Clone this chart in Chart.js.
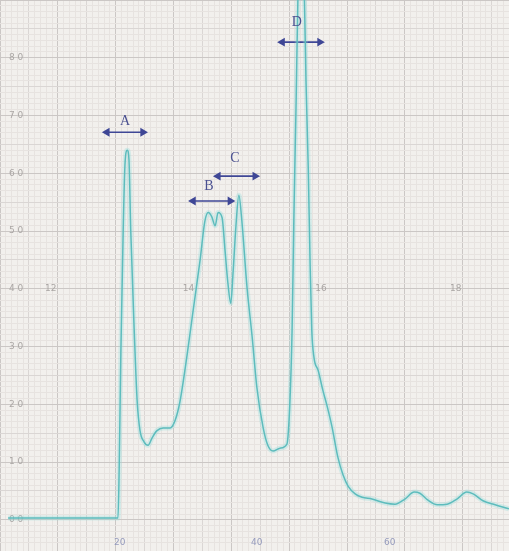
<!DOCTYPE html>
<html lang="en">

<head>
  <meta charset="UTF-8" />
  <title>Chromatogram</title>
  <script src="https://cdn.jsdelivr.net/npm/chart.js"></script>
  <style>
    body {
      margin: 0;
      background: #f2f0ed;
    }

    .trace-box {
      width: 509px;
      height: 551px;
      position: relative;
    }
  </style>
</head>

<body>
  <div class="trace-box">
    <canvas id="traceChart"></canvas>
  </div>

  <script>
    // recorder trace: time (x) vs detector response (y, % of full scale)
    const timeValues = [
      1.4, 20.4, 20.6, 20.9, 21.3, 21.6, 22.0, 22.3, 22.6, 23.2, 23.7, 24.2, 24.9, 25.6, 26.3, 27.1,
      28.2, 29.4, 30.3, 31.1, 32.3, 33.4, 34.6, 35.4, 36.0, 36.6, 37.2, 37.7, 38.4, 38.9, 39.4, 39.9,
      40.3, 40.8, 41.3, 41.8, 42.7, 43.6, 44.4, 45.5, 46.3, 47.2, 48.4, 49.6, 50.1, 50.5, 50.8, 51.2,
      51.5, 52.0, 52.6, 52.9, 53.3, 53.6, 53.9, 54.3, 55.0, 55.8, 56.5, 57.4, 58.4, 59.3, 60.2, 61.4,
      62.6, 64.3, 66.6, 68.3, 70.0, 71.6, 72.6, 74.0, 75.6, 77.3, 79.0, 80.7, 81.8, 83.5, 85.6, 88.0
    ];
    const responseValues = [
      0.3, 0.3, 8.6, 29.4, 50.2, 61.4, 64.0, 62.3, 50.2, 32.9, 20.8, 15.5, 13.5, 12.9, 14.2, 15.4,
      15.9, 15.9, 17.3, 20.4, 28.2, 36.3, 45.0, 51.6, 53.2, 52.5, 50.9, 53.2, 52.3, 46.7, 41.0, 37.5,
      42.9, 51.0, 56.2, 51.9, 40.3, 31.6, 23.0, 15.9, 12.9, 11.9, 12.4, 13.1, 19.9, 32.9, 51.9, 72.7,
      90.0, 100.4, 91.7, 76.1, 60.6, 45.0, 32.9, 28.0, 25.9, 22.5, 19.9, 16.1, 10.9, 7.8, 5.8, 4.5,
      3.9, 3.6, 2.9, 2.7, 3.6, 4.8, 4.6, 3.4, 2.6, 2.7, 3.6, 4.8, 4.5, 3.3, 2.6, 1.9
    ];

    // peak markers: letter, letter position, width arrow
    const peakNames = ['A', 'B', 'C', 'D'];
    const peakLabelX = [21.6, 36.1, 40.6, 51.3];
    const peakLabelY = [69.0, 57.8, 62.6, 86.2];
    const arrowFrom = [18.5, 33.4, 37.7, 48.8];
    const arrowTo = [24.7, 39.8, 44.1, 55.3];
    const arrowY = [67.1, 55.2, 59.5, 82.7];

    // chart paper printing
    const scaleLabels = ['0 0', '1 0', '2 0', '3 0', '4 0', '5 0', '6 0', '7 0', '8 0'];
    const scaleLabelValues = [0, 10, 20, 30, 40, 50, 60, 70, 80];
    const midRowLabels = ['12', '14', '16', '18'];
    const midRowX = [7.8, 31.6, 54.5, 77.8];
    const timeLabels = ['20', '40', '60'];
    const timeLabelX = [20.7, 44.4, 67.4];

    const tracePoints = timeValues.map((t, i) => ({ x: t, y: responseValues[i] }));

    function gridColor(v) {
      const r = Math.round(v * 1000) / 1000;
      if (r % 1 !== 0) return 'rgba(0,0,0,0)';
      if (r % 10 === 0) return '#cbc7c5';
      if (r % 5 === 0) return '#dad6d4';
      return '#e7e3e0';
    }

    const arrowSets = peakNames.map((name, i) => ({
      label: 'arrow ' + name,
      data: [{ x: arrowFrom[i], y: arrowY[i] }, { x: arrowTo[i], y: arrowY[i] }],
      borderColor: '#3f4796',
      backgroundColor: '#3f4796',
      borderWidth: 1.6,
      pointStyle: 'triangle',
      pointRotation: [270, 90],
      pointRadius: 3.5,
      pointHoverRadius: 3.5,
      tension: 0
    }));

    // letters over the peaks and the paper printing
    const paperText = {
      id: 'paperText',
      beforeDatasetsDraw(chart) {
        const { ctx, scales: { x, y } } = chart;
        ctx.save();
        ctx.font = '9px "DejaVu Sans"';
        ctx.fillStyle = '#aaa6a4';
        ctx.textBaseline = 'middle';
        scaleLabelValues.forEach((v, i) => {
          ctx.fillText(scaleLabels[i], 9, y.getPixelForValue(v));
        });
        midRowLabels.forEach((t, i) => {
          ctx.fillText(t, x.getPixelForValue(midRowX[i]), y.getPixelForValue(40));
        });
        ctx.fillStyle = '#959bbd';
        ctx.textAlign = 'center';
        timeLabels.forEach((t, i) => {
          ctx.fillText(t, x.getPixelForValue(timeLabelX[i]), y.getPixelForValue(-4));
        });
        ctx.restore();
      },
      afterDatasetsDraw(chart) {
        const { ctx, scales: { x, y } } = chart;
        ctx.save();
        ctx.font = '14px "Liberation Serif"';
        ctx.fillStyle = '#4a5090';
        ctx.textAlign = 'center';
        ctx.textBaseline = 'middle';
        peakNames.forEach((n, i) => {
          ctx.fillText(n, x.getPixelForValue(peakLabelX[i]), y.getPixelForValue(peakLabelY[i]));
        });
        ctx.restore();
      }
    };

    const axisBase = {
      type: 'linear',
      display: true,
      border: { display: false },
      ticks: { display: false, stepSize: 1, autoSkip: false },
      grid: {
        drawTicks: false,
        lineWidth: 1,
        color: c => gridColor(c.tick.value)
      }
    };

    new Chart(document.getElementById('traceChart'), {
      type: 'line',
      data: {
        datasets: [
          {
            label: 'glow',
            data: tracePoints,
            borderColor: 'rgba(140,220,220,0.3)',
            borderWidth: 5,
            pointRadius: 0,
            cubicInterpolationMode: 'monotone'
          },
          {
            label: 'trace',
            data: tracePoints,
            borderColor: '#4aafb0',
            borderWidth: 1.5,
            pointRadius: 0,
            cubicInterpolationMode: 'monotone'
          },
          ...arrowSets
        ]
      },
      options: {
        responsive: true,
        maintainAspectRatio: false,
        animation: false,
        layout: { padding: 0, autoPadding: false },
        plugins: {
          legend: { display: false },
          tooltip: { enabled: false }
        },
        scales: {
          x: { ...axisBase, min: 0, max: 88 },
          y: { ...axisBase, min: -5.4, max: 90 }
        }
      },
      plugins: [paperText]
    });
  </script>
</body>

</html>
